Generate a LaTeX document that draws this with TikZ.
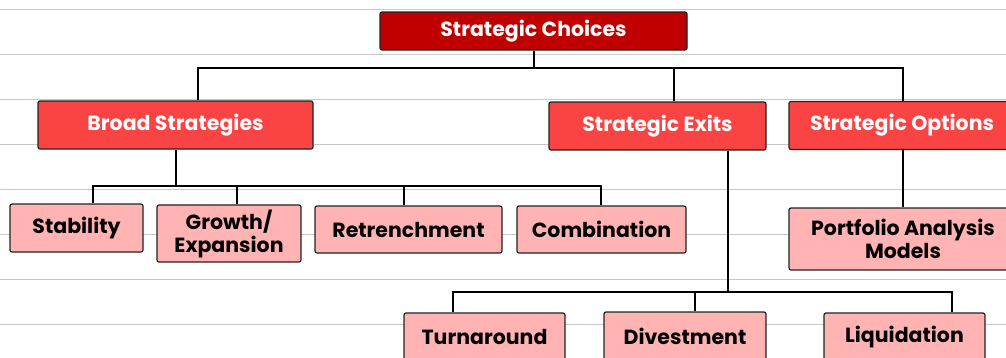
\documentclass[tikz,border=0pt]{standalone}
\usepackage{fontspec}
\setmainfont{Poppins}
\definecolor{dkred}{HTML}{C00000}
\definecolor{midred}{HTML}{FA4343}
\definecolor{pinkfill}{HTML}{FFB3B3}
\definecolor{ruleg}{HTML}{C8C8C8}
\definecolor{edgec}{HTML}{222222}
\begin{document}
\begin{tikzpicture}[x=1pt,y=-1pt,
  box/.style={draw=edgec,line width=1.2pt,rounded corners=2pt,align=center,inner sep=0pt,font=\fontsize{20.5}{23}\selectfont\bfseries},
  topbox/.style={box,fill=dkred,text=white},
  redbox/.style={box,fill=midred,text=white},
  pinkbox/.style={box,fill=pinkfill,text=black},
  conn/.style={draw=black,line width=2pt},
  rule/.style={draw=ruleg,line width=1pt}]
\useasboundingbox (0,0) rectangle (1006,357);
\clip (0,0) rectangle (1006,357);
\fill[white] (0,0) rectangle (1006,357);
\foreach \y in {9.5,54.5,99.5,144.5,189.5,234.5,279.5,324.5}
  \draw[rule] (0,\y) -- (1006,\y);
% nodes
\node[topbox,minimum width=307pt,minimum height=38pt] (choices) at (533.5,31) {Strategic Choices};
\node[redbox,minimum width=275pt,minimum height=48pt] (broad) at (175.5,125) {Broad Strategies};
\node[redbox,minimum width=217pt,minimum height=48pt] (exits) at (657.5,126) {Strategic Exits};
\node[redbox,minimum width=226pt,minimum height=48pt] (options) at (902,125.5) {Strategic Options};
\node[pinkbox,minimum width=133pt,minimum height=48pt] (stab) at (76.5,228) {Stability};
\node[pinkbox,minimum width=144pt,minimum height=57pt] (growth) at (229,233.5) {Growth/\\Expansion};
\node[pinkbox,minimum width=187pt,minimum height=47pt] (retr) at (408.5,229.5) {Retrenchment};
\node[pinkbox,minimum width=169pt,minimum height=47pt] (comb) at (601.5,229.5) {Combination};
\node[pinkbox,minimum width=228pt,minimum height=62pt] (port) at (903,239) {Portfolio Analysis\\Models};
\node[pinkbox,minimum width=161pt,minimum height=48pt] (turn) at (484.5,337) {Turnaround};
\node[pinkbox,minimum width=162pt,minimum height=48pt] (dive) at (685,336) {Divestment};
\node[pinkbox,minimum width=161pt,minimum height=48pt] (liq) at (904.5,337) {Liquidation};
% helper coordinates
\coordinate (h1) at (0,68);
\coordinate (h2) at (0,186);
\coordinate (h3) at (0,292);
\coordinate (xb) at (198,0);
\coordinate (xe) at (674,0);
\coordinate (xo) at (903,0);
\coordinate (xs) at (93,0);
\coordinate (xg) at (237,0);
\coordinate (xr) at (404,0);
\coordinate (xc) at (601,0);
\coordinate (xe2) at (728,0);
\coordinate (xt) at (453,0);
\coordinate (xd) at (695,0);
\coordinate (xl) at (952,0);
% level 1
\draw[conn] (choices.south) -- (choices.south |- h1);
\draw[conn] (broad.north -| xb) -- (xb |- h1) -- (xo |- h1) -- (options.north -| xo);
\draw[conn] (exits.north -| xe) -- (xe |- h1);
% broad
\draw[conn] (broad.south) -- (broad.south |- h2);
\draw[conn] (stab.north -| xs) -- (xs |- h2) -- (xc |- h2) -- (comb.north -| xc);
\draw[conn] (growth.north -| xg) -- (xg |- h2);
\draw[conn] (retr.north -| xr) -- (xr |- h2);
% exits
\draw[conn] (exits.south -| xe2) -- (xe2 |- h3);
\draw[conn] (turn.north -| xt) -- (xt |- h3) -- (xl |- h3) -- (liq.north -| xl);
\draw[conn] (dive.north -| xd) -- (xd |- h3);
% options
\draw[conn] (options.south -| xo) -- (port.north -| xo);
\end{tikzpicture}
\end{document}
